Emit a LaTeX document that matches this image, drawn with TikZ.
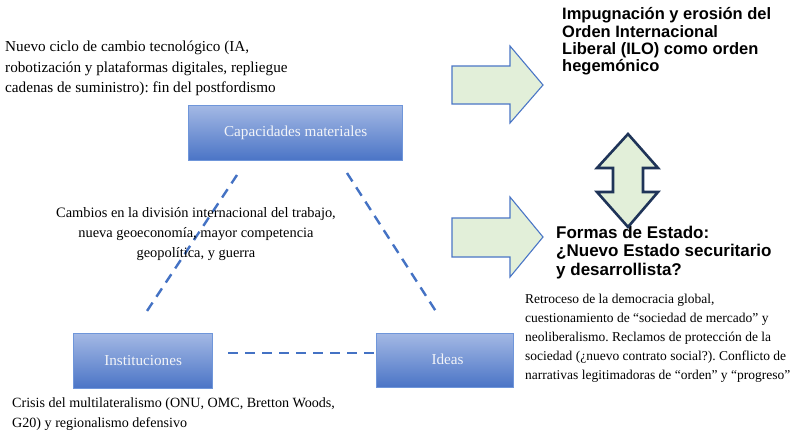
\documentclass[tikz,border=0pt]{standalone}
\usepackage{fontspec}
\setmainfont{Liberation Serif}
\newfontfamily\hsans{Liberation Sans}
\frenchspacing
\definecolor{boxtop}{HTML}{A3B8E4}
\definecolor{boxbot}{HTML}{4A74C6}
\definecolor{boxline}{HTML}{6F96DA}
\definecolor{dashblue}{HTML}{4472C4}
\definecolor{arrowfill}{HTML}{E2EFD9}
\definecolor{arrowline}{HTML}{4A76C6}
\definecolor{navy}{HTML}{1F3458}
\definecolor{boxtext}{HTML}{F2F4F8}
\begin{document}
\begin{tikzpicture}[x=1pt,y=-1pt,
  gbox/.style={draw=boxline, line width=1.2pt, top color=boxtop, bottom color=boxbot,
    text=boxtext, font=\fontsize{15.2}{18}\selectfont, inner sep=0pt, anchor=north west},
  dashline/.style={draw=dashblue, line width=2.4pt, dash pattern=on 10pt off 7pt},
  blockarrow/.style={draw=arrowline, fill=arrowfill, line width=1.1pt, line join=miter},
  dblarrow/.style={draw=navy, fill=arrowfill, line width=2.6pt, line join=miter},
  serif15/.style={font=\fontsize{15.2}{20.5}\selectfont, inner sep=0pt, align=left, anchor=north west},
  serif14/.style={font=\fontsize{14.4}{20}\selectfont, inner sep=0pt},
  serif13/.style={font=\fontsize{13.5}{19.2}\selectfont, inner sep=0pt, align=left, anchor=north west},
  boldsans/.style={font=\hsans\bfseries\fontsize{16.5}{17}\selectfont, inner sep=0pt, align=left, anchor=north west},
  boldsansb/.style={font=\hsans\bfseries\fontsize{17}{18.5}\selectfont, inner sep=0pt, align=left, anchor=north west}]
\useasboundingbox (0,0) rectangle (794,437);
\fill[white] (0,0) rectangle (794,437);

% boxes
\node[gbox, minimum width=214pt, minimum height=55pt] (cap) at (188,105) {\raisebox{2pt}{Capacidades materiales}};
\node[gbox, minimum width=139pt, minimum height=55pt] (inst) at (73,333) {\raisebox{2pt}{Instituciones}};
\node[gbox, minimum width=137pt, minimum height=54pt] (ideas) at (376,333) {\raisebox{2pt}{\hspace*{5pt}Ideas}};

% dashed triangle
\coordinate (l1) at (237,175);
\coordinate (l2) at (145,314);
\coordinate (r1) at (347,173);
\coordinate (r2) at (437,313);
\coordinate (h1) at (228,353);
\draw[dashline] (l1) -- (l2);
\draw[dashline] (r1) -- (r2);
\draw[dashline] (h1) -- (ideas.west |- h1);

% texts
\node[serif15] (t1) at (5,37) {\strut Nuevo ciclo de cambio tecnológico (IA,\\robotización y plataformas digitales, repliegue\\cadenas de suministro): fin del postfordismo};
\node[serif14, align=center, anchor=north] (t2) at (196,203) {\strut Cambios en la división internacional del trabajo,\\nueva geoeconomía, mayor competencia\\geopolítica, y guerra};
\node[serif14, font=\fontsize{14.1}{20}\selectfont, align=left, anchor=north west] (t3) at (12,393) {\strut Crisis del multilateralismo (ONU, OMC, Bretton Woods,\\G20) y regionalismo defensivo};
\node[boldsans] (t4) at (562,7) {\strut Impugnación y erosión del\\Orden Internacional\\Liberal (ILO) como orden\\hegemónico};
\node[boldsansb] (t5) at (556,225) {\strut Formas de Estado:\\¿Nuevo Estado securitario\\y desarrollista?};
\node[serif13] (t6) at (525,289.5) {\strut Retroceso de la democracia global,\\cuestionamiento de “sociedad de mercado” y\\neoliberalismo. Reclamos de protección de la\\sociedad (¿nuevo contrato social?). Conflicto de\\narrativas legitimadoras de “orden” y “progreso”};

% block arrows
\draw[blockarrow] (452,66) -- (510,66) -- (510,46) -- (543,85) -- (510,123) -- (510,104) -- (452,104) -- cycle;
\draw[blockarrow] (452,218) -- (510,218) -- (510,197) -- (543,237) -- (510,277) -- (510,257) -- (452,257) -- cycle;
\draw[dblarrow] (628,134) -- (658,168) -- (643,168) -- (643,192) -- (658,192) -- (628,227) -- (597,192) -- (613,192) -- (613,168) -- (597,168) -- cycle;
\end{tikzpicture}
\end{document}
